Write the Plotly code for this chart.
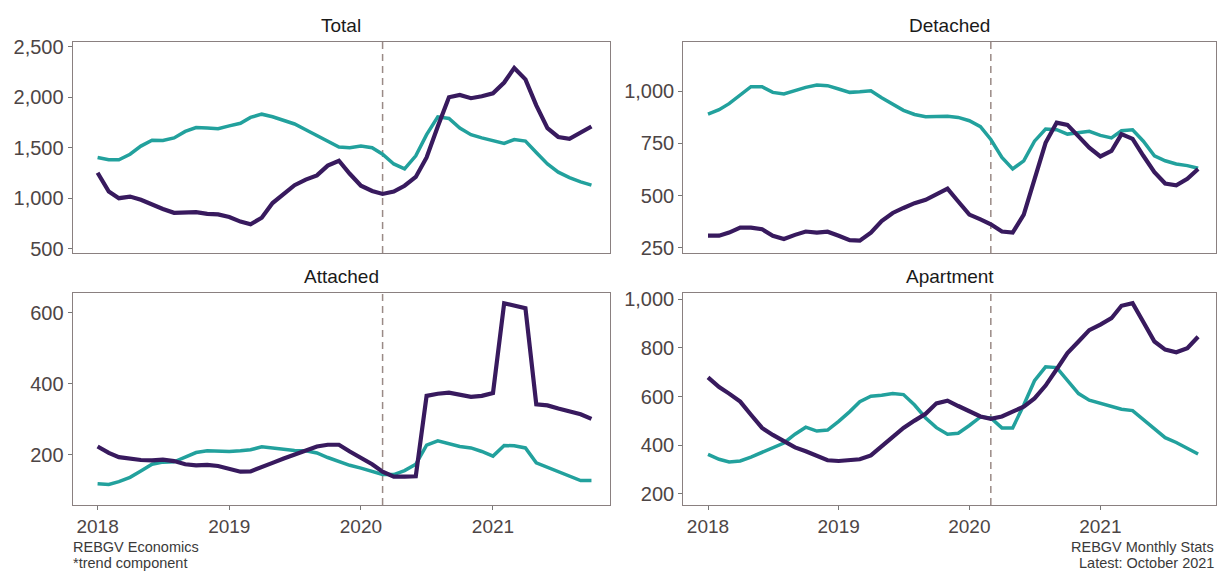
import pandas as pd
import plotly.graph_objects as go

# Monthly observations, Jan 2018 - Oct 2021 (trend component)
months = pd.date_range("2018-01-01", periods=46, freq="MS")

total_purple = [1252, 1065, 1000, 1016, 984, 935, 893, 855, 855, 861, 845, 839,
                813, 768, 742, 806, 952, 1048, 1129, 1184, 1226, 1323, 1371, 1242,
                1123, 1071, 1042, 1065, 1123, 1210, 1403, 1710, 2000, 2023, 1990, 2010,
                2039, 2145, 2290, 2177, 1919, 1694, 1606, 1587, 1645, 1710]
total_teal = [1403, 1381, 1381, 1435, 1516, 1574, 1571, 1597, 1661, 1700, 1694, 1687,
              1716, 1742, 1800, 1832, 1806, 1768, 1735, 1677, 1619, 1565, 1506, 1500,
              1516, 1500, 1435, 1339, 1290, 1419, 1629, 1806, 1790, 1694, 1629, 1597,
              1565, 1542, 1581, 1565, 1452, 1339, 1258, 1203, 1161, 1129]

detached_purple = [308, 308, 323, 347, 347, 339, 308, 292, 312, 328, 323, 327,
                   308, 287, 284, 323, 378, 417, 441, 464, 480, 507, 534, 472,
                   409, 386, 363, 328, 323, 409, 581, 753, 850, 839, 784, 730,
                   688, 714, 795, 772, 691, 613, 558, 550, 581, 628]
detached_teal = [891, 912, 941, 980, 1022, 1022, 995, 987, 1003, 1019, 1030, 1027,
                 1011, 995, 998, 1003, 969, 936, 909, 889, 878, 879, 880, 875,
                 859, 831, 769, 683, 628, 667, 761, 819, 816, 795, 800, 808,
                 789, 777, 811, 816, 761, 691, 667, 652, 644, 631]

attached_purple = [223, 205, 193, 189, 185, 184, 186, 182, 173, 170, 171, 168,
                   159, 152, 153, 164, 177, 189, 200, 211, 223, 228, 228, 209,
                   191, 173, 152, 138, 138, 139, 366, 372, 375, 369, 363, 366,
                   374, 627, 620, 613, 342, 339, 330, 323, 314, 301]
attached_teal = [118, 116, 124, 136, 154, 173, 179, 180, 193, 206, 211, 209,
                 209, 211, 214, 222, 219, 214, 212, 211, 205, 192, 181, 170,
                 162, 153, 144, 144, 155, 173, 227, 239, 232, 223, 219, 209,
                 196, 226, 225, 219, 177, 165, 153, 139, 127, 127]

apartment_purple = [679, 639, 612, 579, 525, 471, 442, 418, 391, 375, 354, 338,
                    335, 339, 342, 358, 394, 431, 471, 501, 529, 572, 583, 561,
                    538, 518, 508, 518, 538, 558, 592, 645, 712, 779, 826, 873,
                    896, 922, 973, 984, 906, 826, 793, 782, 799, 846]
apartment_teal = [362, 342, 331, 335, 351, 371, 389, 409, 445, 474, 458, 462,
                  498, 538, 579, 601, 605, 612, 608, 565, 512, 472, 445, 449,
                  481, 516, 512, 471, 471, 565, 665, 722, 719, 665, 612, 585,
                  572, 556, 548, 542, 505, 465, 431, 411, 389, 364]

panel_titles = ["Total", "Detached", "Attached", "Apartment"]
year_ticks = ["2018-01-01", "2019-01-01", "2020-01-01", "2021-01-01"]
year_labels = ["2018", "2019", "2020", "2021"]
event_date = "2020-03-01"

PURPLE = "#381a5e"
TEAL = "#22a19d"
FONT = "Liberation Sans, Arial, sans-serif"
W, H = 1222, 578

panels = [
    (total_purple, total_teal, [457, 2548], [500, 1000, 1500, 2000, 2500]),
    (detached_purple, detached_teal, [225, 1237], [250, 500, 750, 1000]),
    (attached_purple, attached_teal, [58, 655], [200, 400, 600]),
    (apartment_purple, apartment_teal, [154, 1024], [200, 400, 600, 800, 1000]),
]

# panel boxes in pixels: (left, right, top, bottom)
boxes = [(72.7, 609.5, 36.7, 252.7), (683.3, 1216, 36.7, 252.7),
         (72.7, 609.5, 294, 510.5), (683.3, 1216, 294, 510.5)]

x_range = ["2017-10-24", "2021-11-20"]

fig = go.Figure()
layout = dict(width=W, height=H, margin=dict(l=0, r=0, t=0, b=0),
              paper_bgcolor="white", plot_bgcolor="white", showlegend=False,
              font=dict(family=FONT, color="#4d4d4d"))
annotations = []
shapes = []

for i, ((pv, tv, yr, yt), (l, r, t, b), title) in enumerate(zip(panels, boxes, panel_titles)):
    n = "" if i == 0 else str(i + 1)
    xa, ya = "x" + n, "y" + n
    fig.add_trace(go.Scatter(x=months, y=tv, mode="lines", xaxis=xa, yaxis=ya,
                             line=dict(color=TEAL, width=3.5), name="listings"))
    fig.add_trace(go.Scatter(x=months, y=pv, mode="lines", xaxis=xa, yaxis=ya,
                             line=dict(color=PURPLE, width=4.2), name="sales"))
    bottom_row = i >= 2
    layout["xaxis" + n] = dict(
        domain=[l / W, r / W], anchor=ya, type="date", range=x_range,
        tickvals=year_ticks, ticktext=year_labels,
        showticklabels=bottom_row, ticks="outside" if bottom_row else "",
        ticklen=4, tickcolor="#777", showgrid=False, zeroline=False,
        showline=True, mirror=True, linecolor="#8a8080", linewidth=1.2,
        tickfont=dict(size=19, color="#4d4545"))
    layout["yaxis" + n] = dict(
        domain=[1 - b / H, 1 - t / H], anchor=xa, range=yr, tickvals=yt,
        tickformat=",d", ticks="outside", ticklen=4, tickcolor="#777",
        showgrid=False, zeroline=False, showline=True, mirror=True,
        linecolor="#8a8080", linewidth=1.2,
        tickfont=dict(size=20, color="#4d4545"))
    shapes.append(dict(type="line", xref=xa, yref=ya + " domain",
                       x0=event_date, x1=event_date, y0=0, y1=1,
                       line=dict(color="#9a8a86", width=1.5, dash="7px,5px"),
                       layer="below"))
    annotations.append(dict(text=title, xref="paper", yref="paper",
                            x=(l + r) / 2 / W, y=1 - (t - 17) / H,
                            xanchor="center", yanchor="middle", showarrow=False,
                            font=dict(size=19, color="#1a1a1a", family=FONT)))

captions = [("REBGV Economics", 71 / W, 553, "left"),
            ("*trend component", 71 / W, 570, "left"),
            ("REBGV Monthly Stats", 1216 / W, 553, "right"),
            ("Latest: October 2021", 1216 / W, 570, "right")]
for text, x, y, anchor in captions:
    annotations.append(dict(text=text, xref="paper", yref="paper", x=x, y=1 - y / H,
                            xanchor=anchor, yanchor="middle", showarrow=False,
                            font=dict(size=14.5, color="#3a3a3a", family=FONT)))

layout["annotations"] = annotations
layout["shapes"] = shapes
fig.update_layout(**layout)
fig.write_html("out.html")
